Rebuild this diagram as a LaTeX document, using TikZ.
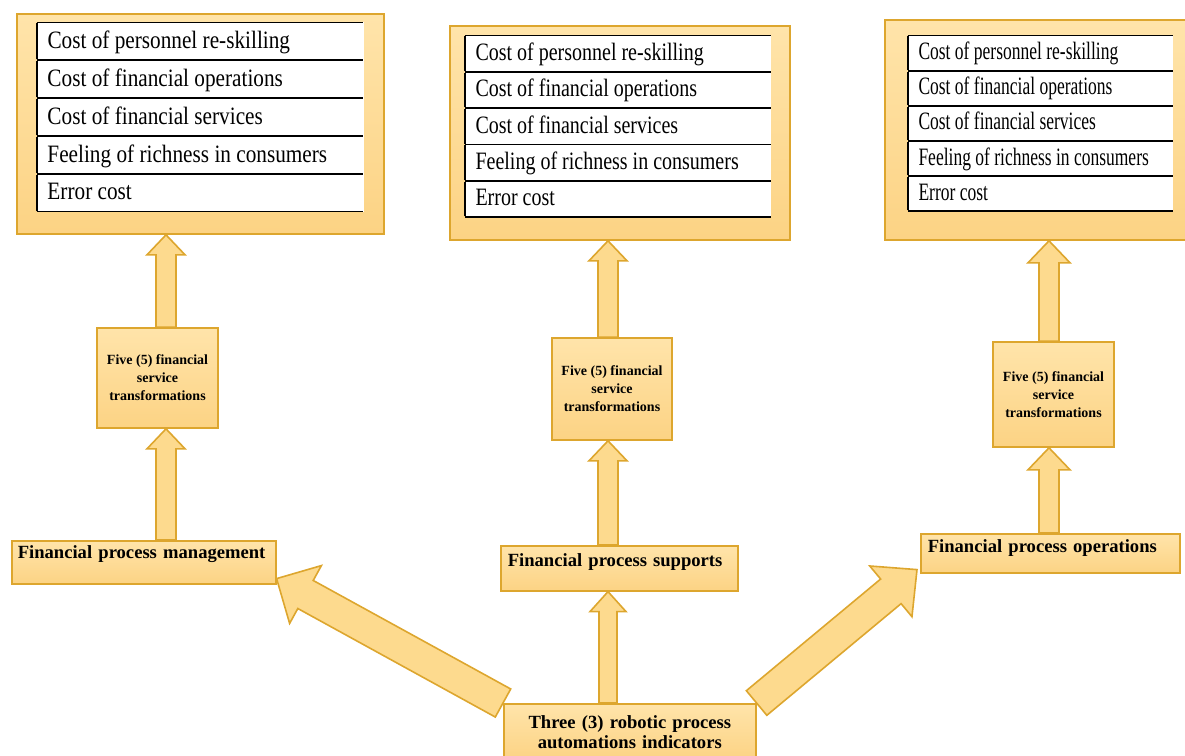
\documentclass[tikz,border=0pt]{standalone}
\usepackage{fontspec}
\setmainfont{Liberation Serif}
\newfontfamily\costfontL[FakeStretch=0.85]{Liberation Serif}
\newfontfamily\costfontM[FakeStretch=0.80]{Liberation Serif}
\newfontfamily\costfontR[FakeStretch=0.70]{Liberation Serif}
\newcommand{\lbfont}{\bfseries\fontsize{9.3}{10}\selectfont}
\newcommand{\fivefont}{\bfseries\fontsize{7}{9}\selectfont}
\usetikzlibrary{calc,backgrounds}
\definecolor{rpaedge}{HTML}{DDA62E}
\definecolor{rpatop}{HTML}{FFE4AA}
\definecolor{rpabot}{HTML}{FCD384}
\definecolor{rpafill}{HTML}{FDDA8E}
\tikzset{
  rpabox/.style={draw=rpaedge,line width=0.8pt,top color=rpatop,bottom color=rpabot,inner sep=0pt},
  fatarr/.style={draw=rpaedge,line width=0.8pt,fill=rpafill,line join=miter},
}
% table of the five cost items
\newcommand{\costtable}[3]{%
  {#1\fontsize{12.5}{15}\selectfont\renewcommand{\arraystretch}{#3}%
  \setlength{\arrayrulewidth}{0.9pt}%
  \begin{tabular}{|@{\hspace{5pt}}p{#2}@{}}
  \hline
  Cost of personnel re-skilling\\ \hline
  Cost of financial operations\\ \hline
  Cost of financial services\\ \hline
  Feeling of richness in consumers\\ \hline
  Error cost\\ \hline
  \end{tabular}}}
% block arrow: from, to, shaft half width, head half width, head length
\newcommand{\fatarrow}[5]{%
  \coordinate (fa-s) at #1;
  \coordinate (fa-e) at #2;
  \coordinate (fa-h) at ($(fa-e)!#5!(fa-s)$);
  \filldraw[fatarr] ($(fa-s)!#3!90:(fa-e)$) -- ($(fa-h)!#3!90:(fa-e)$)
    -- ($(fa-h)!#4!90:(fa-e)$) -- (fa-e) -- ($(fa-h)!#4!-90:(fa-e)$)
    -- ($(fa-h)!#3!-90:(fa-e)$) -- ($(fa-s)!#3!-90:(fa-e)$) -- cycle;
}

\begin{document}
\begin{tikzpicture}[x=0.5pt,y=-0.5pt]
  \useasboundingbox (0,0) rectangle (1185,756);
  \clip (0,0) rectangle (1185,756);
  % top boxes
  \node[rpabox,minimum width=183.5pt,minimum height=110pt] (out1) at (200.5,124) {};
  \node[anchor=north west,inner sep=0pt,fill=white] (tab1) at ($(out1.north west)+(20,8)$)
    {\costtable{\costfontL}{158pt}{1.2}};
  \node[rpabox,minimum width=170pt,minimum height=107pt] (out2) at (620,133) {};
  \node[anchor=north west,inner sep=0pt,fill=white] (tab2) at ($(out2.north west)+(15,9)$)
    {\costtable{\costfontM}{147.5pt}{1.15}};
  \node[rpabox,minimum width=155pt,minimum height=110pt] (out3) at (1040,130) {};
  \node[anchor=north west,inner sep=0pt,fill=white] (tab3) at ($(out3.north west)+(23,15)$)
    {\costtable{\costfontR}{127pt}{1.11}};
  % transformation boxes
  \node[rpabox,minimum width=60.5pt,minimum height=50pt,align=center,font=\fivefont] (five1)
    at (157.5,378) {Five (5) financial\\service\\transformations};
  \node[rpabox,minimum width=60pt,minimum height=51pt,align=center,font=\fivefont] (five2)
    at (612,389) {Five (5) financial\\service\\transformations};
  \node[rpabox,minimum width=60.5pt,minimum height=52.5pt,align=center,font=\fivefont] (five3)
    at (1053.5,394.5) {Five (5) financial\\service\\transformations};
  % process boxes
  \node[rpabox,anchor=north west,inner xsep=3pt,text width=126pt,align=left,
    text height=9pt,text depth=12.5pt,font=\lbfont] (mgmt) at (11,540) {Financial process management};
  \node[rpabox,anchor=north west,inner xsep=3.5pt,text width=111.5pt,align=left,
    text height=10.5pt,text depth=12pt,font=\lbfont] (supp) at (500,545) {Financial process supports};
  \node[rpabox,anchor=north west,inner xsep=3.5pt,text width=122.5pt,align=left,
    text height=9.5pt,text depth=10pt,font=\lbfont] (ops) at (920,533) {Financial process operations};
  \node[rpabox,anchor=north west,text width=126pt,minimum height=28pt,align=center,
    font=\lbfont] (three) at (503,703) {Three (3) robotic process\\automations indicators};
  % arrows
  \coordinate (colA) at (166,0);
  \coordinate (colB) at (608,0);
  \coordinate (colC) at (1049,0);
  \begin{pgfonlayer}{background}
    \fatarrow{(colA |- mgmt.north)}{(colA |- five1.south)}{5pt}{9.5pt}{10pt}
    \fatarrow{(colA |- five1.north)}{(colA |- out1.south)}{5pt}{9.5pt}{10pt}
    \fatarrow{(colB |- three.north)}{(colB |- supp.south)}{4.5pt}{9pt}{10pt}
    \fatarrow{(colB |- supp.north)}{(colB |- five2.south)}{5pt}{9.5pt}{10pt}
    \fatarrow{(colB |- five2.north)}{(colB |- out2.south)}{5pt}{9.5pt}{10pt}
    \fatarrow{(colC |- ops.north)}{(colC |- five3.south)}{5pt}{10.5pt}{11pt}
    \fatarrow{(colC |- five3.north)}{(colC |- out3.south)}{5pt}{10.5pt}{11pt}
    \fatarrow{(three.north west)}{($(mgmt.south east)+(0,-6)$)}{8pt}{16.5pt}{16.5pt}
    \fatarrow{(three.north east)}{($(ops.south west)+(-3,-4)$)}{8pt}{16.5pt}{17pt}
  \end{pgfonlayer}
\end{tikzpicture}
\end{document}
